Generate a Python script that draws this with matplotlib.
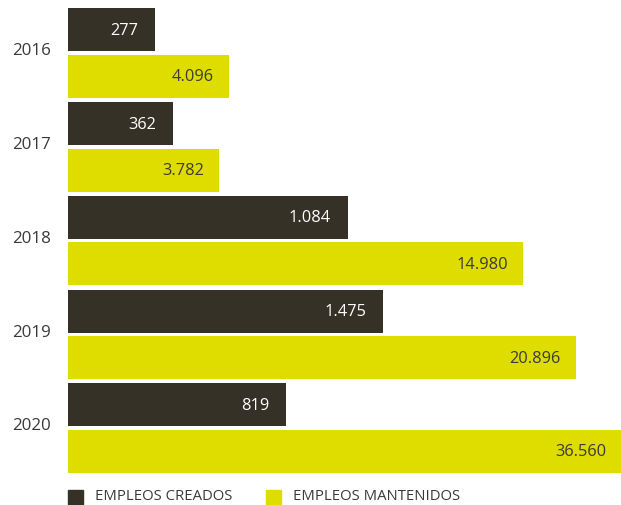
import matplotlib.pyplot as plt
import numpy as np

years = ['2016', '2017', '2018', '2019', '2020']
creados = ['277', '362', '1.084', '1.475', '819']
mantenidos = ['4.096', '3.782', '14.980', '20.896', '36.560']
# bar lengths as drawn in the original (not proportional to the values)
largo_creados = [87, 105, 280, 315, 218]
largo_mantenidos = [161, 151, 455, 508, 553]

c_dark = '#353126'
c_yellow = '#dfdc00'
c_text = '#3a3a38'

plt.rcParams['font.family'] = ['Open Sans', 'DejaVu Sans']

fig = plt.figure(figsize=(6.21, 5.06), dpi=100)
ax = fig.add_axes([68 / 621, 1 - 476 / 506, 553 / 621, 468.75 / 506])

y = np.arange(len(years))
off = 0.248
h = 0.459
ax.barh(y - off, largo_creados, height=h, color=c_dark)
ax.barh(y + off, largo_mantenidos, height=h, color=c_yellow)

for i in range(len(years)):
    ax.text(largo_creados[i] - 17, y[i] - off, creados[i], color='white',
            ha='right', va='center', fontsize=11.8)
    ax.text(largo_mantenidos[i] - 15, y[i] + off, mantenidos[i], color=c_text,
            ha='right', va='center', fontsize=11.8)
    ax.text(-17, y[i] - 0.03, years[i], color=c_text, ha='right', va='center',
            fontsize=12.2)

ax.set_xlim(0, 553)
ax.set_ylim(4.5, -0.5)
ax.axis('off')

# legend
fig.patches.append(plt.Rectangle((68 / 621, 0), 15 / 621, 15 / 506,
                                 transform=fig.transFigure, color=c_dark))
fig.text(95 / 621, 1 - 497 / 506, 'EMPLEOS CREADOS', color=c_text,
         fontsize=10.7, va='center')
fig.patches.append(plt.Rectangle((266 / 621, 0), 15 / 621, 15 / 506,
                                 transform=fig.transFigure, color=c_yellow))
fig.text(293 / 621, 1 - 497 / 506, 'EMPLEOS MANTENIDOS', color=c_text,
         fontsize=10.7, va='center')

fig.savefig('out.png', dpi=100)
